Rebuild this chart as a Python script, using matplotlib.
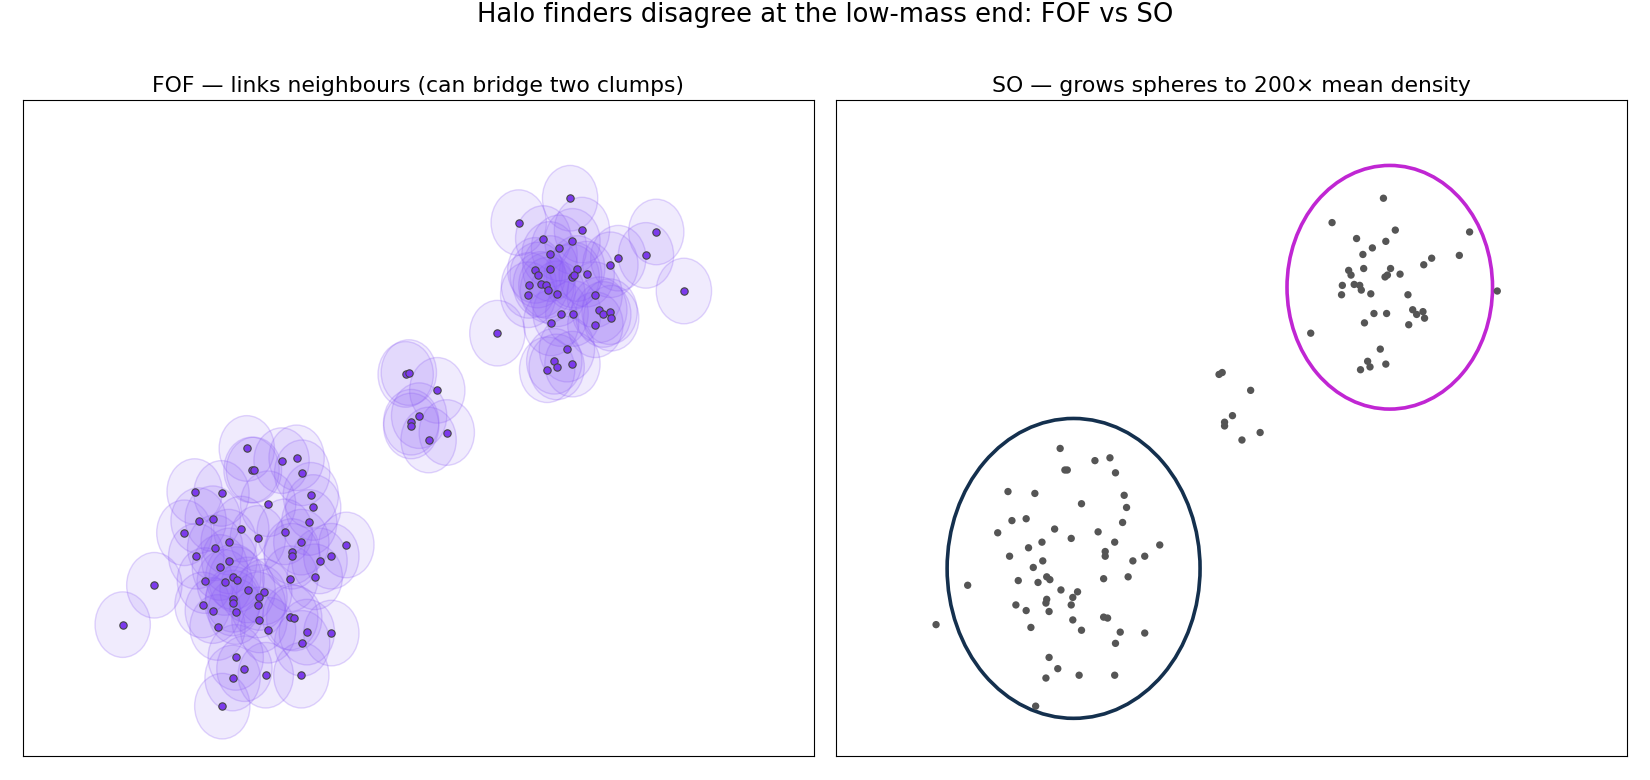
import numpy as np
import matplotlib
matplotlib.use("Agg")
import matplotlib.pyplot as plt
from matplotlib.patches import Circle
from matplotlib.colors import to_rgba

# particle positions (data units, box 10 x 7)
clump_a_x = [2.83, 3.27, 3.46, 2.89, 2.92, 3.53, 2.17, 2.51, 3.64, 3.10,
             3.67, 2.22, 2.40, 3.62, 2.04, 2.76, 2.97, 3.31, 2.60, 3.52,
             4.09, 2.43, 3.40, 3.40, 2.19, 3.90, 3.75, 2.61, 2.49, 2.66,
             2.70, 2.30, 3.38, 3.69, 1.66, 2.55, 2.84, 3.05, 2.99, 2.66,
             2.65, 2.27, 2.40, 2.69, 2.97, 1.26, 2.46, 2.99, 3.38, 3.43,
             3.10, 3.59, 3.90, 3.53, 2.69, 2.80, 2.65, 3.07, 3.52, 2.52]
clump_a_y = [3.28, 3.15, 3.18, 3.05, 3.05, 3.02, 2.82, 2.80, 2.78, 2.69,
             2.65, 2.51, 2.53, 2.49, 2.38, 2.42, 2.32, 2.39, 2.28, 2.28,
             2.25, 2.22, 2.18, 2.13, 2.13, 2.13, 2.08, 2.08, 2.01, 1.91,
             1.88, 1.87, 1.89, 1.91, 1.82, 1.85, 1.77, 1.75, 1.69, 1.67,
             1.63, 1.61, 1.55, 1.54, 1.61, 1.40, 1.37, 1.45, 1.48, 1.47,
             1.34, 1.32, 1.31, 1.20, 1.05, 0.93, 0.83, 0.86, 0.86, 0.53]

clump_b_x = [6.92, 6.27, 7.07, 8.01, 6.58, 6.95, 6.78, 6.66, 7.88, 7.53,
             7.43, 6.67, 7.01, 6.48, 6.51, 7.13, 6.94, 6.97, 6.40, 6.55,
             6.62, 6.64, 8.36, 6.39, 6.76, 7.23, 7.29, 7.34, 7.42, 7.44,
             6.80, 6.96, 7.24, 6.68, 6.00, 6.88, 6.72, 6.75, 6.63, 6.95]
clump_b_y = [5.95, 5.69, 5.61, 5.59, 5.52, 5.49, 5.42, 5.35, 5.34, 5.31,
             5.24, 5.20, 5.20, 5.18, 5.13, 5.14, 5.11, 5.13, 5.02, 5.03,
             5.02, 4.97, 4.96, 4.92, 4.93, 4.92, 4.76, 4.71, 4.74, 4.67,
             4.72, 4.72, 4.60, 4.62, 4.51, 4.34, 4.21, 4.15, 4.12, 4.18]

bridge_x = [4.84, 4.88, 5.24, 5.01, 4.91, 4.91, 5.36, 5.13]
bridge_y = [4.07, 4.09, 3.90, 3.63, 3.56, 3.52, 3.45, 3.37]

# FOF linking radius, SO spheres (centre x, centre y, radius)
link_radius = 0.35
so_x = [3.0, 7.0]
so_y = [2.0, 5.0]
so_r = [1.6, 1.3]
so_colors = ["#14304e", "#c026d3"]

px = np.array(clump_a_x + bridge_x + clump_b_x)
py = np.array(clump_a_y + bridge_y + clump_b_y)

fig, (ax1, ax2) = plt.subplots(1, 2, figsize=(16.5, 7.8), dpi=100)
fig.subplots_adjust(left=0.014, right=0.986, bottom=0.031, top=0.872, wspace=0.029)

# ---- FOF panel ----
for x, y in zip(px, py):
    ax1.add_patch(Circle((x, y), link_radius,
                         facecolor=to_rgba("#8b5cf6", 0.12),
                         edgecolor=to_rgba("#8b5cf6", 0.25),
                         lw=1.0, zorder=1))
ax1.scatter(px, py, s=28, c="#7c3aed", edgecolors="#444444", linewidths=0.8, zorder=3)
ax1.set_title("FOF — links neighbours (can bridge two clumps)", fontsize=15.75)

# ---- SO panel ----
ax2.scatter(px, py, s=28, c="#555555", edgecolors="none", zorder=3)
for cx, cy, r, col in zip(so_x, so_y, so_r, so_colors):
    ax2.add_patch(Circle((cx, cy), r, fill=False, edgecolor=col, lw=2.6, zorder=2))
ax2.set_title("SO — grows spheres to 200× mean density", fontsize=15.75)

for ax in (ax1, ax2):
    ax.set_xlim(0, 10)
    ax.set_ylim(0, 7)
    ax.set_xticks([])
    ax.set_yticks([])

fig.suptitle("Halo finders disagree at the low-mass end: FOF vs SO", fontsize=18.6, y=0.997)

fig.savefig("out.png", dpi=100)
